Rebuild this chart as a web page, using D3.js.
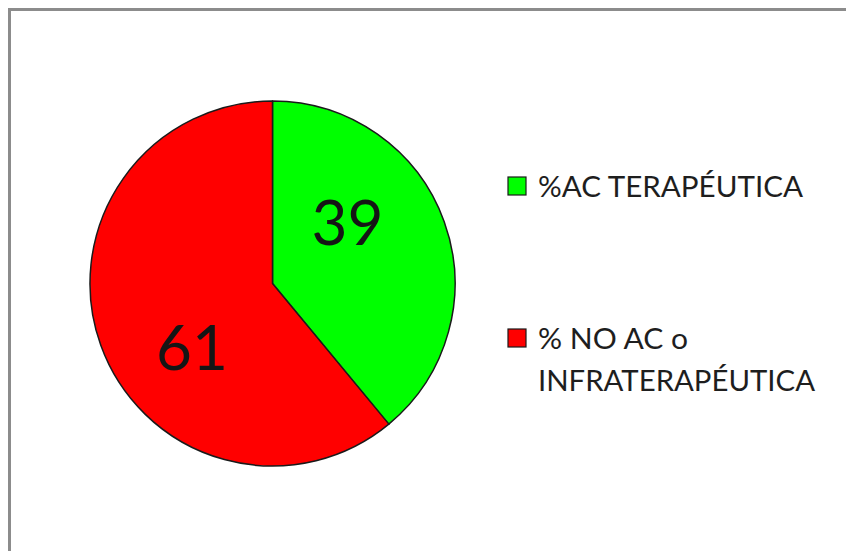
<!DOCTYPE html>
<html>
<head>
<meta charset="utf-8">
<script src="https://cdn.jsdelivr.net/npm/d3@7"></script>
<style>
  html, body { margin: 0; padding: 0; background: #ffffff; }
  svg { display: block; }
</style>
</head>
<body>
<svg id="chart" width="846" height="551"></svg>
<script>
// Share of patients by anticoagulation status (%)
const categories = ["%AC TERAPÉUTICA", "% NO AC o INFRATERAPÉUTICA"];
const values = [39, 61];
const legendLines = [["%AC TERAPÉUTICA"], ["% NO AC o", "INFRATERAPÉUTICA"]];
const colors = ["#00ff00", "#ff0000"];

const svg = d3.select("#chart");
const W = 846, H = 551;

// outer frame (runs off the right and bottom edges)
svg.append("rect")
  .attr("x", 9.5).attr("y", 9.5)
  .attr("width", W).attr("height", H)
  .attr("fill", "#ffffff")
  .attr("stroke", "#8c8c8c")
  .attr("stroke-width", 3);

const cx = 272.5, cy = 283.5, r = 182.5;

const pie = d3.pie().sort(null).value(d => d.value);
const arcs = pie(categories.map((c, i) => ({ name: c, value: values[i], color: colors[i] })));
const arc = d3.arc().innerRadius(0).outerRadius(r);

const g = svg.append("g").attr("transform", `translate(${cx},${cy})`);

g.selectAll("path.slice")
  .data(arcs)
  .join("path")
  .attr("class", "slice")
  .attr("d", arc)
  .attr("fill", d => d.data.color)
  .attr("stroke", "#1a1a1a")
  .attr("stroke-width", 1.5)
  .attr("stroke-linejoin", "round");

// value labels inside the slices
const labelArc = d3.arc().innerRadius(r * 0.55).outerRadius(r * 0.55);
const labelOffsets = [[-19.5, -27], [14, 30.5]];
g.selectAll("text.val")
  .data(arcs)
  .join("text")
  .attr("class", "val")
  .attr("transform", (d, i) => {
    const [x, y] = labelArc.centroid(d);
    return `translate(${x + labelOffsets[i][0]},${y + labelOffsets[i][1]})`;
  })
  .attr("text-anchor", "middle")
  .attr("dy", "0.36em")
  .attr("font-family", "Lato, 'Open Sans', sans-serif")
  .attr("font-size", 62)
  .attr("fill", "#151515")
  .text(d => d.data.value);

// legend
const legendX = 508, legendY = [177, 329];
const lineWidths = [[265], [150, 277]];
const leg = svg.append("g");
legendLines.forEach((lines, i) => {
  leg.append("rect")
    .attr("x", legendX).attr("y", legendY[i])
    .attr("width", 18).attr("height", 18)
    .attr("fill", colors[i])
    .attr("stroke", "#1a1a1a")
    .attr("stroke-width", 1.2);
  lines.forEach((t, j) => {
    leg.append("text")
      .attr("x", legendX + 30)
      .attr("y", legendY[i] + 20 + j * 42)
      .attr("font-family", "Lato, 'Open Sans', sans-serif")
      .attr("font-size", 29)
      .attr("fill", "#1e1e1e")
      .attr("textLength", lineWidths[i][j])
      .attr("lengthAdjust", "spacingAndGlyphs")
      .text(t);
  });
});
</script>
</body>
</html>
